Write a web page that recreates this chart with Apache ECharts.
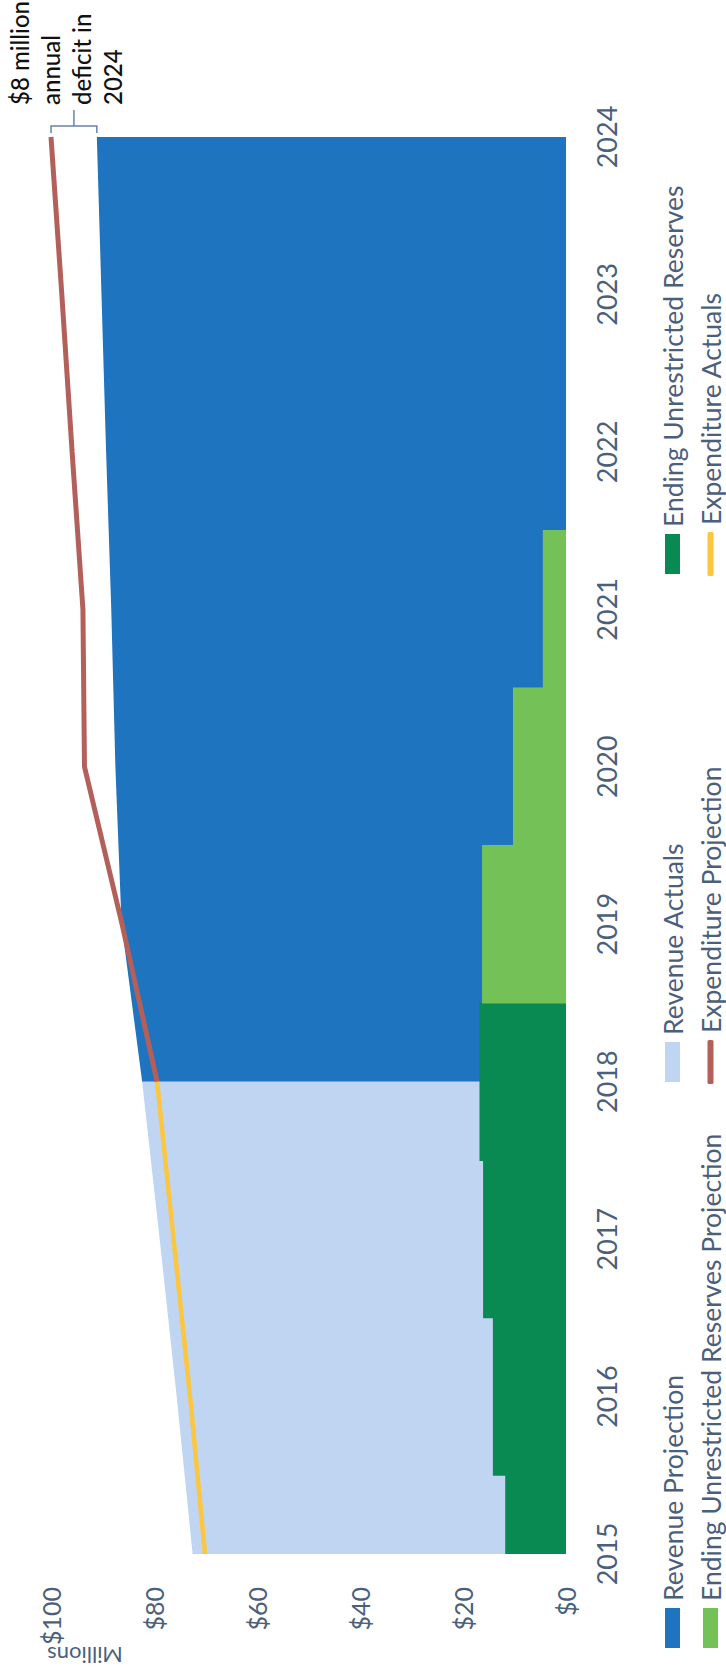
<!DOCTYPE html>
<html><head><meta charset="utf-8">
<script src="https://cdn.jsdelivr.net/npm/echarts@6/dist/echarts.min.js"></script>
<style>
html,body{margin:0;padding:0;width:726px;height:1674px;overflow:hidden;background:#ffffff;}
#c{position:absolute;left:0;top:0;width:1674px;height:726px;transform-origin:0 0;transform:translateY(1674px) rotate(-90deg);}
</style></head><body><div id="c"></div>
<script>
// ---- data (values in $ millions) ----
const years = ['2015','2016','2017','2018','2019','2020','2021','2022','2023','2024'];
const revenueProjection  = ['-','-','-',82.3,86.3,87.5,88.3,89.3,90.2,91.1];
const revenueActuals     = [72.5,75.6,78.9,82.3,'-','-','-','-','-','-'];
const reservesActuals    = [11.8,14.2,16.1,16.8,'-','-','-','-','-','-'];
const reservesProjection = ['-','-','-','-',16.3,10.3,4.5,'-','-','-'];
const expenditureProjection = ['-','-','-',79.4,86.2,93.5,93.8,95.9,97.9,100];
const expenditureActuals    = [70.1,73.0,76.2,79.4,'-','-','-','-','-','-'];
const valueAxisMin = 0, valueAxisMax = 100, valueAxisStep = 20;
const unitsLabel = 'Millions';
const annotationText = '$8 million\nannual\ndeficit in\n2024';

const FONT = 'Lato, "Open Sans", "Noto Sans", sans-serif';
const TXT = '#4b5f7d';
const C = {
  revProj:'#1f74bf', revAct:'#bfd5f2', resAct:'#088a52', resProj:'#74c257',
  expProj:'#b4605a', expAct:'#fcc63f'
};

const chart = echarts.init(document.getElementById('c'), null, {renderer:'svg', width:1674, height:726});

function lg(name, left, top, isLine){
  return {
    data:[{name:name}], left:left, top:top, padding:0, orient:'horizontal',
    itemWidth: isLine ? 44 : 40, itemHeight: isLine ? 6 : 15, icon: isLine ? 'roundRect' : 'rect',
    itemGap: 0, selectedMode:false,
    textStyle:{color:TXT, fontFamily:FONT, fontSize:26.5, padding:[0,0,0,2]}
  };
}

function toPairs(arr){ return arr.map((v,i)=> v === '-' ? null : [i, v]).filter(Boolean); }

function renderStep(params, api){
  const i = api.value(0), v = api.value(1);
  const p = api.coord([i, v]);
  const p0 = api.coord([i, 0]);
  const w = api.size([1, 0])[0];
  const cs = params.coordSys;
  const r = echarts.graphic.clipRectByRect(
    {x: p[0] - w/2 - 0.5, y: p[1], width: w + 1, height: p0[1] - p[1]},
    {x: cs.x, y: cs.y, width: cs.width, height: cs.height});
  if (!r) return null;
  return {type:'rect', shape:r, style:{fill: api.visual('color')}};
}

const option = {
  backgroundColor:'#ffffff',
  animation:false,
  grid:{left:120, right:137, top:51, bottom:160, containLabel:false},
  xAxis:{
    type:'category', data:years, boundaryGap:false,
    axisLine:{show:false}, axisTick:{show:false}, splitLine:{show:false},
    axisLabel:{color:TXT, fontFamily:FONT, fontSize:27, margin:27, interval:0}
  },
  yAxis:{
    type:'value', min:valueAxisMin, max:valueAxisMax, interval:valueAxisStep,
    axisLine:{show:false}, axisTick:{show:false}, splitLine:{show:false},
    axisLabel:{color:TXT, fontFamily:FONT, fontSize:25, margin:33, formatter:v=>'$'+v}
  },
  legend:[
    lg('Revenue Projection', 26, 659, false),
    lg('Revenue Actuals', 592, 659, false),
    lg('Ending Unrestricted Reserves', 1100, 659, false),
    lg('Ending Unrestricted Reserves Projection', 26, 697, false),
    lg('Expenditure Projection', 590, 697, true),
    lg('Expenditure Actuals', 1098, 697, true)
  ],
  series:[
    {name:'Revenue Projection', type:'line', data:revenueProjection, symbol:'none', z:1,
     lineStyle:{width:0, color:C.revProj}, itemStyle:{color:C.revProj},
     areaStyle:{color:C.revProj, opacity:1}},
    {name:'Revenue Actuals', type:'line', data:revenueActuals, symbol:'none', z:1,
     lineStyle:{width:0, color:C.revAct}, itemStyle:{color:C.revAct},
     areaStyle:{color:C.revAct, opacity:1}},
    {name:'Ending Unrestricted Reserves', type:'custom', renderItem:renderStep, data:toPairs(reservesActuals),
     encode:{x:0, y:1}, itemStyle:{color:C.resAct}, z:2},
    {name:'Ending Unrestricted Reserves Projection', type:'custom', renderItem:renderStep, data:toPairs(reservesProjection),
     encode:{x:0, y:1}, itemStyle:{color:C.resProj}, z:2},
    {name:'Expenditure Projection', type:'line', data:expenditureProjection, symbol:'none', z:3, clip:false,
     lineStyle:{width:5, color:C.expProj}, itemStyle:{color:C.expProj}},
    {name:'Expenditure Actuals', type:'line', data:expenditureActuals, symbol:'none', z:3,
     lineStyle:{width:4.5, color:C.expAct}, itemStyle:{color:C.expAct}}
  ]
};
chart.setOption(option);

// annotation bracket built from the 2024 values through the chart's scales
const last = years.length - 1;
const pRev = chart.convertToPixel({gridIndex:0}, [last, revenueProjection[last]]);
const pExp = chart.convertToPixel({gridIndex:0}, [last, expenditureProjection[last]]);
const bx = pRev[0] + 11, mid = (pRev[1] + pExp[1]) / 2;
const top0 = chart.convertToPixel({gridIndex:0}, [0, valueAxisMax]);
chart.setOption({graphic:[
  {type:'polyline', silent:true, shape:{points:[[pRev[0]+4,pRev[1]],[bx,pRev[1]],[bx,pExp[1]],[pRev[0]+4,pExp[1]]]},
   style:{stroke:'#6783a8', lineWidth:1.5, fill:null}},
  {type:'line', silent:true, shape:{x1:bx, y1:mid, x2:bx+16, y2:mid}, style:{stroke:'#6783a8', lineWidth:1.5}},
  {type:'text', silent:true, x:bx+21, y:4,
   style:{text:annotationText, fontFamily:FONT, fontSize:24, fontWeight:500, lineHeight:31, fill:'#111111', verticalAlign:'top', align:'left'}},
  {type:'text', silent:true, x:19, y:top0[1]+34, rotation:Math.PI/2,
   style:{text:unitsLabel, fontFamily:FONT, fontSize:22, fill:TXT, align:'center', verticalAlign:'middle'}}
]});
</script></body></html>
